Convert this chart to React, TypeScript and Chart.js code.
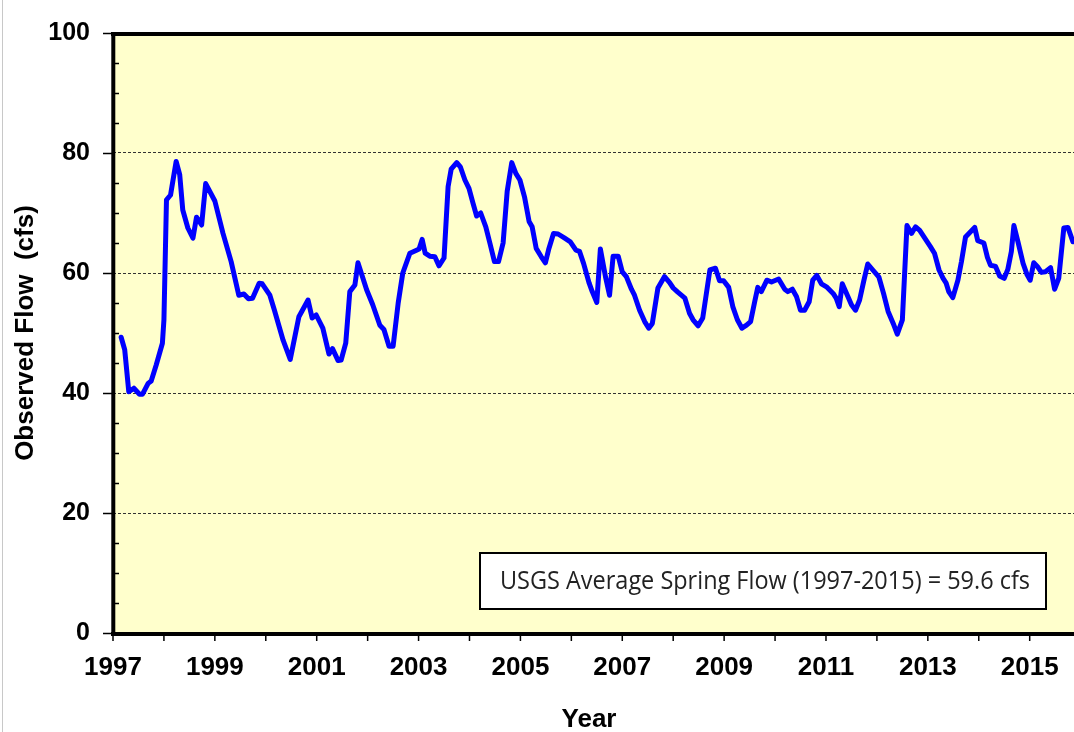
import React, { useEffect, useRef } from 'react';
import { Chart, registerables } from 'chart.js';

Chart.register(...registerables);

// Decimal year of each observation
const years = [
  1997.16, 1997.23, 1997.31, 1997.41, 1997.52, 1997.58, 1997.69, 1997.75, 1997.85, 1997.97,
  1998.0, 1998.05, 1998.13, 1998.24, 1998.31, 1998.37, 1998.47, 1998.57, 1998.64, 1998.74,
  1998.82, 1999.0, 1999.16, 1999.32, 1999.47, 1999.57, 1999.66, 1999.74, 1999.87, 1999.93,
  2000.08, 2000.17, 2000.34, 2000.48, 2000.65, 2000.83, 2000.91, 2000.99, 2001.12, 2001.24,
  2001.31, 2001.42, 2001.48, 2001.57, 2001.65, 2001.75, 2001.81, 2001.98, 2002.1, 2002.24,
  2002.32, 2002.42, 2002.5, 2002.6, 2002.69, 2002.83, 2002.96, 2003.01, 2003.07, 2003.13,
  2003.22, 2003.32, 2003.4, 2003.5, 2003.58, 2003.64, 2003.75, 2003.82, 2003.91, 2003.99,
  2004.07, 2004.14, 2004.22, 2004.32, 2004.4, 2004.49, 2004.57, 2004.66, 2004.74, 2004.83,
  2004.91, 2004.99, 2005.08, 2005.17, 2005.23, 2005.31, 2005.41, 2005.49, 2005.56, 2005.65,
  2005.74, 2005.87, 2005.98, 2006.09, 2006.16, 2006.24, 2006.35, 2006.41, 2006.5, 2006.57,
  2006.67, 2006.75, 2006.82, 2006.92, 2007.0, 2007.08, 2007.18, 2007.24, 2007.34, 2007.44,
  2007.52, 2007.59, 2007.7, 2007.83, 2007.93, 2008.0, 2008.09, 2008.23, 2008.32, 2008.39,
  2008.49, 2008.58, 2008.72, 2008.83, 2008.91, 2008.99, 2009.09, 2009.17, 2009.26, 2009.35,
  2009.44, 2009.52, 2009.6, 2009.66, 2009.73, 2009.84, 2009.93, 2010.07, 2010.19, 2010.25,
  2010.34, 2010.42, 2010.5, 2010.58, 2010.67, 2010.74, 2010.82, 2010.91, 2011.01, 2011.14,
  2011.2, 2011.26, 2011.32, 2011.43, 2011.5, 2011.58, 2011.66, 2011.74, 2011.82, 2011.92,
  2012.04, 2012.13, 2012.22, 2012.32, 2012.4, 2012.5, 2012.59, 2012.68, 2012.76, 2012.84,
  2012.94, 2013.05, 2013.13, 2013.22, 2013.3, 2013.36, 2013.41, 2013.49, 2013.59, 2013.66,
  2013.74, 2013.82, 2013.92, 2013.98, 2014.1, 2014.17, 2014.23, 2014.33, 2014.41, 2014.5,
  2014.57, 2014.64, 2014.69, 2014.77, 2014.87, 2014.95, 2015.01, 2015.08, 2015.15, 2015.23,
  2015.31, 2015.41, 2015.49, 2015.57, 2015.67, 2015.75, 2015.85,
];

// Observed flow (cfs)
const flows = [
  49.3, 47.2, 40.2, 40.8, 39.8, 39.8, 41.6, 42.0, 44.7, 48.3,
  52.2, 72.2, 73.0, 78.6, 76.4, 70.5, 67.5, 65.8, 69.3, 68.0,
  74.9, 72.0, 66.6, 61.9, 56.3, 56.5, 55.7, 55.8, 58.3, 58.2,
  56.3, 53.8, 48.8, 45.6, 52.7, 55.5, 52.5, 53.0, 50.8, 46.5,
  47.4, 45.4, 45.5, 48.3, 56.9, 58.0, 61.7, 57.2, 54.7, 51.3,
  50.6, 47.8, 47.8, 55.0, 60.0, 63.3, 63.8, 64.0, 65.6, 63.3,
  62.8, 62.7, 61.2, 62.5, 74.4, 77.3, 78.4, 77.7, 75.5, 74.1,
  71.6, 69.5, 70.0, 67.7, 65.0, 61.9, 61.9, 65.0, 73.6, 78.4,
  76.6, 75.5, 72.7, 68.6, 67.7, 64.1, 62.7, 61.7, 64.1, 66.6,
  66.5, 65.8, 65.2, 63.8, 63.6, 61.6, 58.3, 56.9, 55.1, 64.0,
  59.4, 56.3, 62.8, 62.8, 60.2, 59.4, 57.3, 56.3, 53.8, 51.9,
  50.8, 51.6, 57.5, 59.4, 58.4, 57.5, 56.8, 55.8, 53.3, 52.2,
  51.2, 52.5, 60.5, 60.8, 58.7, 58.7, 57.6, 54.4, 52.2, 50.8,
  51.3, 51.9, 55.2, 57.6, 56.9, 58.8, 58.5, 59.0, 57.3, 56.9,
  57.3, 56.1, 53.8, 53.8, 55.2, 58.8, 59.6, 58.2, 57.7, 56.6,
  55.8, 54.4, 58.2, 56.1, 54.7, 53.8, 55.5, 58.6, 61.5, 60.5,
  59.3, 56.6, 53.6, 51.6, 49.8, 52.2, 67.9, 66.6, 67.7, 67.1,
  65.8, 64.4, 63.3, 60.5, 59.1, 58.3, 56.9, 55.9, 58.8, 61.9,
  66.0, 66.7, 67.6, 65.4, 65.0, 62.6, 61.3, 61.1, 59.5, 59.1,
  60.6, 63.6, 67.9, 65.2, 61.6, 59.7, 58.8, 61.7, 61.1, 60.1,
  60.2, 60.9, 57.3, 59.1, 67.5, 67.6, 65.2,
];

const xMin = 1997;
const xMax = 2015.87;
const yMin = 0;
const yMax = 100;
const yMajorStep = 20;
const yMinorStep = 5;
const yTitle = 'Observed Flow  (cfs)';
const xTitle = 'Year';
const noteText = 'USGS Average Spring Flow (1997-2015) = 59.6 cfs';

const FONT = '"Liberation Sans", Arial, Helvetica, sans-serif';
const NOTE_FONT = '"Open Sans", "Noto Sans", sans-serif';

const decorPlugin = {
  id: 'decor',
  beforeDraw(chart: any) {
    const { ctx, chartArea: a, width, height } = chart;
    ctx.save();
    ctx.fillStyle = '#ffffff';
    ctx.fillRect(0, 0, width, height);
    ctx.fillStyle = '#FFFFCC';
    ctx.fillRect(a.left, a.top, a.right - a.left, a.bottom - a.top);
    ctx.strokeStyle = '#c8c8c8';
    ctx.lineWidth = 1;
    ctx.beginPath();
    ctx.moveTo(2.5, 0);
    ctx.lineTo(2.5, height);
    ctx.stroke();
    ctx.restore();
  },
  afterDatasetsDraw(chart: any) {
    const { ctx, chartArea: a, scales } = chart;
    const xs = scales.x;
    const ys = scales.y;
    ctx.save();
    // plot frame (top, left, bottom)
    ctx.strokeStyle = '#000';
    ctx.lineWidth = 4;
    ctx.beginPath();
    ctx.moveTo(a.left - 2, a.top + 1);
    ctx.lineTo(a.right + 2, a.top + 1);
    ctx.moveTo(a.left + 0.3, a.top - 1);
    ctx.lineTo(a.left + 0.3, a.bottom + 3);
    ctx.moveTo(a.left - 2, a.bottom + 1);
    ctx.lineTo(a.right + 2, a.bottom + 1);
    ctx.stroke();

    // tick marks
    ctx.lineWidth = 1.5;
    ctx.beginPath();
    for (let v = yMin; v <= yMax; v += yMinorStep) {
      const py = Math.round(ys.getPixelForValue(v)) + 0.5;
      if (v % yMajorStep === 0) {
        ctx.moveTo(a.left - 10, py);
        ctx.lineTo(a.left, py);
      } else {
        ctx.moveTo(a.left, py);
        ctx.lineTo(a.left + 6, py);
      }
    }
    for (let yr = Math.ceil(xMin); yr <= xMax; yr++) {
      const px = xs.getPixelForValue(yr);
      ctx.moveTo(px, a.bottom + 2);
      ctx.lineTo(px, a.bottom + 8);
    }
    ctx.stroke();

    // note box
    const bx = 480, by = 553, bw = 566, bh = 56;
    ctx.fillStyle = '#ffffff';
    ctx.fillRect(bx, by, bw, bh);
    ctx.lineWidth = 2;
    ctx.strokeStyle = '#000';
    ctx.strokeRect(bx, by, bw, bh);
    ctx.fillStyle = '#222222';
    ctx.font = `25px ${NOTE_FONT}`;
    ctx.textAlign = 'left';
    ctx.textBaseline = 'alphabetic';
    const tw = ctx.measureText(noteText).width;
    const target = 530;
    ctx.save();
    ctx.translate(500, 589);
    ctx.scale(Math.min(1, target / tw), 1);
    ctx.fillText(noteText, 0, 0);
    ctx.restore();

    // axis titles
    ctx.fillStyle = '#000';
    ctx.font = `bold 26px ${FONT}`;
    ctx.textAlign = 'center';
    ctx.textBaseline = 'alphabetic';
    ctx.fillText(xTitle, 589, 726.5);
    ctx.save();
    ctx.translate(33, (a.top + a.bottom) / 2);
    ctx.rotate(-Math.PI / 2);
    ctx.fillText(yTitle, 0, 0);
    ctx.restore();
    ctx.restore();
  },
};

export default function App() {
  const ref = useRef<HTMLCanvasElement | null>(null);
  useEffect(() => {
    if (!ref.current) return;
    const chart = new Chart(ref.current, {
      type: 'line',
      data: {
        datasets: [
          {
            data: years.map((x, i) => ({ x, y: flows[i] })),
            borderColor: '#0000FF',
            borderWidth: 5,
            pointRadius: 0,
            tension: 0,
            fill: false,
            borderJoinStyle: 'round',
            borderCapStyle: 'round',
          },
        ],
      },
      options: {
        responsive: false,
        animation: false,
        devicePixelRatio: 1,
        layout: { autoPadding: false, padding: { top: 33, right: 0, left: 0, bottom: 0 } },
        plugins: { legend: { display: false }, tooltip: { enabled: false }, title: { display: false } },
        scales: {
          x: {
            type: 'linear',
            min: xMin,
            max: xMax,
            afterFit: (s: any) => {
              s.height = 99;
              s.paddingLeft = 0;
              s.paddingRight = 0;
              s.paddingTop = 0;
              s.paddingBottom = 0;
            },
            grid: { display: false, drawTicks: false },
            border: { display: false },
            ticks: {
              stepSize: 1,
              autoSkip: false,
              includeBounds: false,
              maxRotation: 0,
              minRotation: 0,
              padding: 19,
              color: '#000',
              font: { family: FONT, size: 26, weight: 'bold' },
              callback: (v: any) => (Number.isInteger(v) && v % 2 === 1 ? String(v) : ''),
            },
          },
          y: {
            min: yMin,
            max: yMax,
            afterFit: (s: any) => {
              s.width = 113;
              s.paddingLeft = 0;
              s.paddingRight = 0;
              s.paddingTop = 0;
              s.paddingBottom = 0;
            },
            grid: {
              drawTicks: false,
              lineWidth: 1,
              color: (c: any) => {
                const v = c.tick ? c.tick.value : 0;
                return v % yMajorStep === 0 && v !== yMin && v !== yMax ? '#333333' : 'rgba(0,0,0,0)';
              },
            },
            border: { display: false, dash: [3, 2] },
            ticks: {
              stepSize: yMinorStep,
              autoSkip: false,
              padding: 23,
              color: '#000',
              font: { family: FONT, size: 25, weight: 'bold' },
              callback: (v: any) => (v % yMajorStep === 0 ? String(v) : ''),
            },
          },
        },
      },
      plugins: [decorPlugin],
    } as any);
    return () => chart.destroy();
  }, []);
  return (
    <div style={{ position: 'absolute', left: 0, top: 0, width: 1074, height: 732 }}>
      <canvas ref={ref} width={1074} height={732} style={{ display: 'block' }} />
    </div>
  );
}
